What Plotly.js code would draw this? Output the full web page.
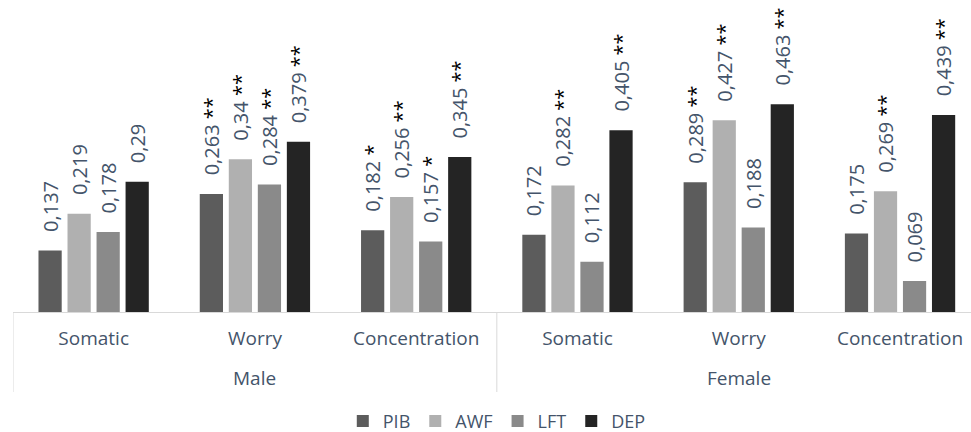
<!DOCTYPE html>
<html>
<head>
<meta charset="utf-8">
<script src="https://cdn.plot.ly/plotly-3.0.1.min.js"></script>
<style>html,body{margin:0;padding:0;background:#fff;}#chart{width:971px;height:432px;}</style>
</head>
<body>
<div id="chart"></div>
<script>
const groups = ['Male', 'Male', 'Male', 'Female', 'Female', 'Female'];
const subscales = ['Somatic', 'Worry', 'Concentration', 'Somatic', 'Worry', 'Concentration'];
const seriesNames = ['PIB', 'AWF', 'LFT', 'DEP'];
const pib = [0.137, 0.263, 0.182, 0.172, 0.289, 0.175];
const awf = [0.219, 0.34, 0.256, 0.282, 0.427, 0.269];
const lft = [0.178, 0.284, 0.157, 0.112, 0.188, 0.069];
const dep = [0.29, 0.379, 0.345, 0.405, 0.463, 0.439];
const pibSig = ['', '**', '*', '', '**', ''];
const awfSig = ['', '**', '**', '**', '**', '**'];
const lftSig = ['', '**', '*', '', '', ''];
const depSig = ['', '**', '**', '**', '**', '**'];

const seriesValues = [pib, awf, lft, dep];
const seriesSig = [pibSig, awfSig, lftSig, depSig];
const colors = ['#5c5c5c', '#b0b0b0', '#8a8a8a', '#242424'];
const idx = subscales.map((_, i) => i);
const FONT = 'Open Sans, sans-serif';
const TXT = '#44546A';

function label(v, s) {
  let t = '\u00a0\u00a0\u00a0' + String(v).replace('.', ',');
  if (s) t += ' <span style="color:#000">' + s + '</span>';
  return t;
}

const traces = seriesNames.map((name, i) => ({
  type: 'bar',
  name: name,
  x: idx,
  y: seriesValues[i],
  text: seriesValues[i].map((v, j) => label(v, seriesSig[i][j])),
  textposition: 'outside',
  textangle: -90,
  constraintext: 'none',
  cliponaxis: false,
  textfont: {family: FONT, size: 20, color: TXT},
  marker: {color: colors[i], line: {width: 0}},
  hoverinfo: 'none'
}));

// group labels and dividers derived from the groups array
const groupNames = [...new Set(groups)];
const annotations = groupNames.map(g => {
  const ids = idx.filter(i => groups[i] === g);
  return {
    xref: 'x', yref: 'paper',
    x: (ids[0] + ids[ids.length - 1]) / 2, y: 0,
    yshift: -66, yanchor: 'middle', xanchor: 'center',
    text: g, showarrow: false,
    font: {family: FONT, size: 19, color: TXT}
  };
});
const bounds = [-0.5];
groupNames.forEach(g => {
  const ids = idx.filter(i => groups[i] === g);
  bounds.push(ids[ids.length - 1] + 0.5);
});
const shapes = bounds.map(b => ({
  type: 'line', xref: 'x', yref: 'paper',
  x0: b, x1: b, y0: 0, y1: -80 / 312,
  line: {color: '#d9d9d9', width: 1}
}));

const layout = {
  width: 971,
  height: 432,
  margin: {l: 13, r: 0, t: 0, b: 120, autoexpand: false},
  paper_bgcolor: '#fff',
  plot_bgcolor: '#fff',
  barmode: 'group',
  bargap: 0.28,
  bargroupgap: 0.2,
  showlegend: true,
  legend: {
    orientation: 'h',
    x: 0.505,
    xanchor: 'center',
    y: -0.35,
    yanchor: 'middle',
    font: {family: FONT, size: 18, color: TXT},
    traceorder: 'normal'
  },
  xaxis: {
    range: [-0.5, 5.44],
    autorange: false,
    tickvals: idx,
    ticktext: subscales,
    showline: true,
    linecolor: '#d9d9d9',
    linewidth: 1,
    ticks: '',
    showgrid: false,
    zeroline: false,
    automargin: false,
    ticklabelstandoff: 9,
    tickfont: {family: FONT, size: 19, color: TXT}
  },
  yaxis: {
    visible: false,
    range: [0, 0.695],
    autorange: false,
    showgrid: false,
    zeroline: false
  },
  annotations: annotations,
  shapes: shapes
};

Plotly.newPlot('chart', traces, layout, {displayModeBar: false, staticPlot: true});
</script>
</body>
</html>
